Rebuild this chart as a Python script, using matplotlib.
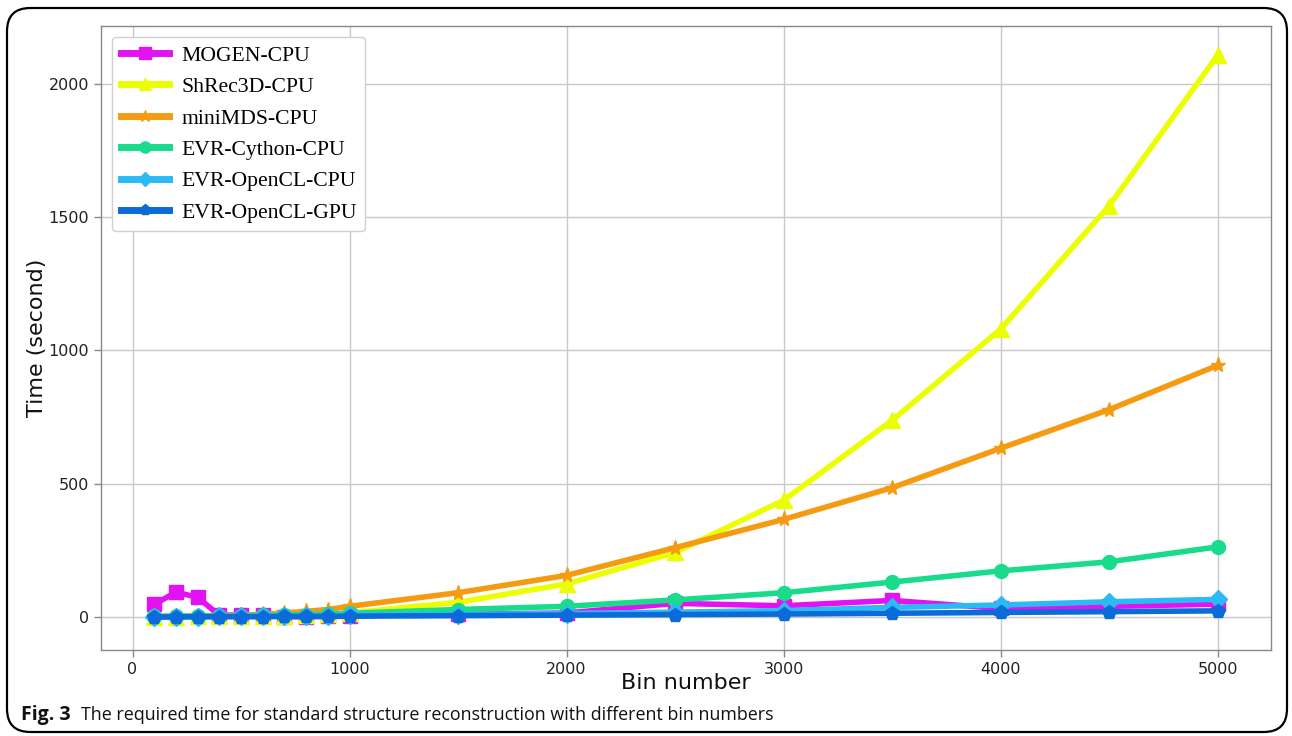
import matplotlib
matplotlib.use("Agg")
import matplotlib.pyplot as plt
from matplotlib.patches import FancyBboxPatch

bins = [100, 200, 300, 400, 500, 600, 700, 800, 900, 1000,
        1500, 2000, 2500, 3000, 3500, 4000, 4500, 5000]

mogen_cpu = [47, 93, 74, 6, 8, 8, 1, 1, 3, 5,
             10, 15, 51, 42, 62, 32, 40, 48]
shrec3d_cpu = [1, 1, 2, 2, 3, 4, 5, 7, 10, 15,
               55, 124, 242, 438, 738, 1080, 1543, 2108]
minimds_cpu = [2, 3, 4, 5, 7, 10, 15, 21, 28, 40,
               91, 156, 260, 366, 485, 633, 778, 944]
evr_cython_cpu = [2, 3, 3, 4, 5, 6, 8, 9, 11, 14,
                  28, 40, 64, 91, 131, 173, 207, 263]
evr_opencl_cpu = [1, 1, 1, 2, 2, 3, 3, 4, 5, 6,
                  9, 13, 18, 24, 36, 45, 57, 66]
evr_opencl_gpu = [0, 0, 1, 1, 1, 1, 2, 2, 2, 3,
                  5, 7, 9, 11, 14, 17, 20, 23]

series = [
    ("MOGEN-CPU", mogen_cpu, "#e312f2", "s", 10),
    ("ShRec3D-CPU", shrec3d_cpu, "#ecff00", "^", 11),
    ("miniMDS-CPU", minimds_cpu, "#f59b12", "*", 11),
    ("EVR-Cython-CPU", evr_cython_cpu, "#18dc8c", "o", 10),
    ("EVR-OpenCL-CPU", evr_opencl_cpu, "#2cbaf4", "D", 9),
    ("EVR-OpenCL-GPU", evr_opencl_gpu, "#0b6bd8", "p", 10),
]

fig = plt.figure(figsize=(12.92, 7.36), dpi=100)
ax = fig.add_axes([0.0782, 0.1168, 0.9055, 0.8479])

for label, values, color, marker, ms in series:
    ax.plot(bins, values, color=color, marker=marker, markersize=ms,
            linewidth=4.0, label=label, solid_joinstyle="round")

ax.set_ylim(-124, 2217)
ax.grid(True, color="#c8c8c8", linewidth=1.0)
ax.set_axisbelow(True)
for side in ax.spines.values():
    side.set_color("#888888")
    side.set_linewidth(1.0)
ax.tick_params(axis="both", colors="#888888", labelcolor="#222222",
               labelsize=11.5, length=5, width=1.0)
ax.set_xticks([0, 1000, 2000, 3000, 4000, 5000])
ax.set_yticks([0, 500, 1000, 1500, 2000])

ax.set_xlabel("Bin number", fontsize=16, color="#111111", labelpad=-2.5)
ax.set_ylabel("Time (second)", fontsize=16, color="#111111", labelpad=1)

leg = ax.legend(loc="upper left", prop={"family": "Liberation Serif", "size": 15.6},
                frameon=True, fancybox=True, framealpha=1.0,
                edgecolor="#d0d0d0", handlelength=2.25, labelspacing=0.52,
                borderpad=0.4, handletextpad=0.55, markerscale=0.8)
leg.get_frame().set_linewidth(1.0)
for handle in leg.get_lines():
    handle.set_linewidth(5.0)

# Rounded frame around the whole figure
frame = FancyBboxPatch((7 / 1292, 4 / 736), 1280 / 1292, 724 / 736,
                       boxstyle="round,pad=0,rounding_size=0.018",
                       transform=fig.transFigure, fill=False,
                       edgecolor="black", linewidth=1.6,
                       mutation_aspect=1292 / 736)
fig.patches.append(frame)

fig.text(21 / 1292, 1 - 715 / 736, "Fig. 3", fontsize=14, fontweight="bold",
         family="Open Sans", va="center", ha="left", color="#111111")
fig.text(81 / 1292, 1 - 715 / 736,
         "The required time for standard structure reconstruction with different bin numbers",
         fontsize=12.9, family="Open Sans", va="center", ha="left", color="#111111")

fig.savefig("out.png", dpi=100)
